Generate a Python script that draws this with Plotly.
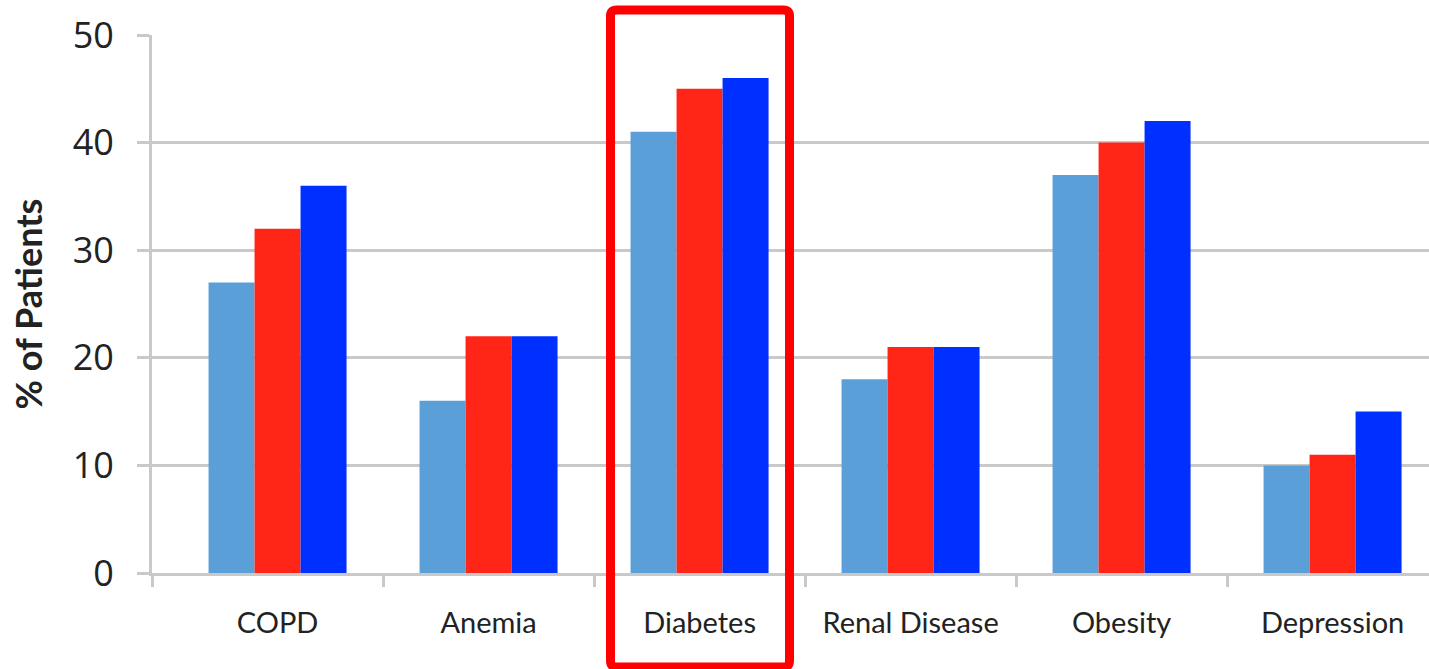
import plotly.graph_objects as go

categories = ["COPD", "Anemia", "Diabetes", "Renal Disease", "Obesity", "Depression"]
series_a = [27, 16, 41, 18, 37, 10]
series_b = [32, 22, 45, 21, 40, 11]
series_c = [36, 22, 46, 21, 42, 15]
y_ticks = [0, 10, 20, 30, 40, 50]
y_title = "% of Patients"
highlight = "Diabetes"

colors = ["#5B9FD9", "#FF2618", "#0030FF"]

W, H = 1429, 669
ML, MR, MT, MB = 152, 0, 35, 96
pw, ph = W - ML - MR, H - MT - MB

xidx = list(range(len(categories)))
x_lo, x_hi = -0.595, 5.457

fig = go.Figure()
for vals, col in zip([series_a, series_b, series_c], colors):
    fig.add_trace(go.Bar(x=xidx, y=vals, marker=dict(color=col, line=dict(width=0)),
                         showlegend=False))

grid = "#c9c9c9"
fig.update_layout(
    width=W, height=H,
    margin=dict(l=ML, r=MR, t=MT, b=MB, pad=0),
    paper_bgcolor="white", plot_bgcolor="white",
    barmode="group", bargap=0.346, bargroupgap=0,
    xaxis=dict(
        range=[x_lo, x_hi], tickmode="array", tickvals=xidx, ticktext=categories,
        ticks="", showgrid=False, zeroline=False,
        showline=True, linecolor=grid, linewidth=3,
        tickfont=dict(family="Lato", size=29, color="#222222"),
        ticklabelstandoff=22,
        minor=dict(tickmode="array",
                   tickvals=[x_lo] + [i + 0.5 for i in xidx[:-1]],
                   ticks="outside", ticklen=11, tickwidth=3, tickcolor=grid,
                   showgrid=False),
    ),
    yaxis=dict(
        range=[0, 50], tickmode="array", tickvals=y_ticks,
        showgrid=True, gridcolor=grid, gridwidth=3,
        zeroline=False, showline=True, linecolor=grid, linewidth=3,
        ticks="outside", ticklen=12, tickwidth=3, tickcolor=grid,
        tickfont=dict(family="Open Sans", size=36, color="#222222"),
        ticklabelstandoff=16,
        title=dict(text="<b>" + y_title + "</b>",
                   font=dict(family="Lato", size=36, color="#222222"),
                   standoff=20),
    ),
)

# red highlight box (paper coordinates derived from pixel layout)
def px2paper(px, py):
    return (px - ML) / pw, (H - MB - py) / ph

x0p, y1p = px2paper(610.5, 10)
x1p, y0p = px2paper(789.5, 667)
rx, ry = 6 / pw, 6 / ph
path = (f"M {x0p+rx},{y1p} L {x1p-rx},{y1p} Q {x1p},{y1p} {x1p},{y1p-ry} "
        f"L {x1p},{y0p+ry} Q {x1p},{y0p} {x1p-rx},{y0p} "
        f"L {x0p+rx},{y0p} Q {x0p},{y0p} {x0p},{y0p+ry} "
        f"L {x0p},{y1p-ry} Q {x0p},{y1p} {x0p+rx},{y1p} Z")
fig.add_shape(type="path", path=path, xref="paper", yref="paper",
              line=dict(color="#FF0000", width=9), fillcolor="rgba(0,0,0,0)")

fig.write_html("out.html")
